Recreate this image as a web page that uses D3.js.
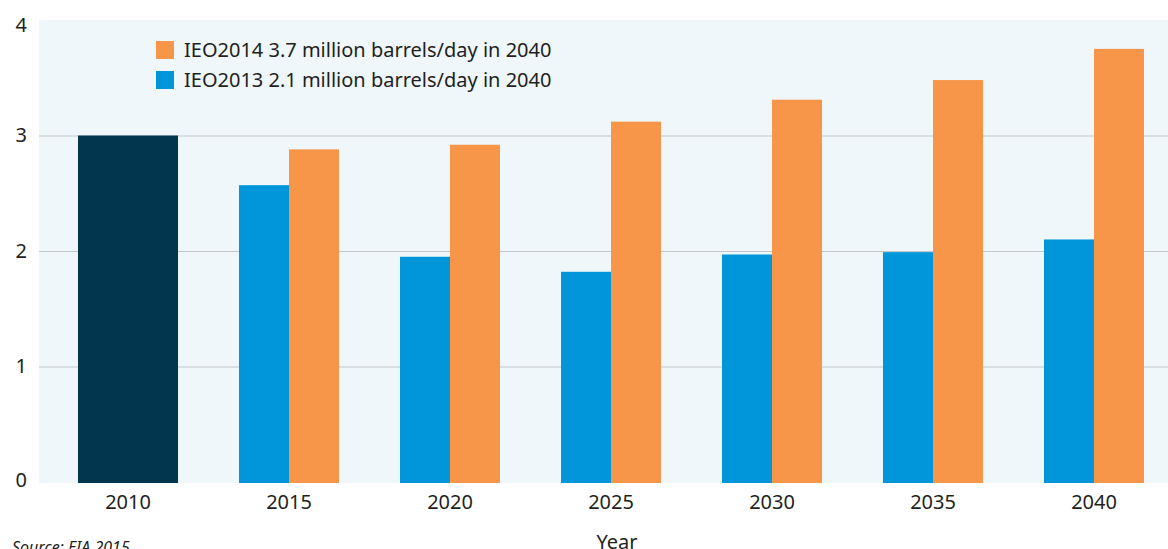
<!DOCTYPE html>
<html>
<head>
<meta charset="utf-8">
<script src="https://cdn.jsdelivr.net/npm/d3@7"></script>
<style>
  body { margin: 0; background: #fff; }
  svg text { font-family: "Noto Sans", "Open Sans", sans-serif; fill: #231f20; }
</style>
</head>
<body>
<svg id="chart" width="1168" height="549"></svg>
<script>
// data
var years = ["2010", "2015", "2020", "2025", "2030", "2035", "2040"];
var ieo2013 = [3.00, 2.57, 1.95, 1.82, 1.97, 1.99, 2.10];
var ieo2014 = [null, 2.88, 2.92, 3.12, 3.31, 3.48, 3.75];
var y_ticks = [0, 1, 2, 3, 4];
var legend_labels = ["IEO2014 3.7 million barrels/day in 2040", "IEO2013 2.1 million barrels/day in 2040"];

var svg = d3.select("#chart");

var plot_left = 39, plot_right = 1168, plot_top = 20, plot_bottom = 483;

var x = d3.scaleBand()
    .domain(years)
    .range([47.5, 1174.5])
    .paddingInner(61 / 161)
    .paddingOuter(30.5 / 161);

var y = d3.scaleLinear().domain([0, 4]).range([482, 20]);

// background
svg.append("rect")
    .attr("x", plot_left).attr("y", plot_top)
    .attr("width", plot_right - plot_left).attr("height", plot_bottom - plot_top)
    .attr("fill", "#eff7fb");

// gridlines
svg.append("g").selectAll("line")
    .data([1, 2, 3])
    .join("line")
    .attr("x1", plot_left).attr("x2", plot_right)
    .attr("y1", function(d) { return y(d) + 0.5; })
    .attr("y2", function(d) { return y(d) + 0.5; })
    .attr("stroke", "#c2c6ca").attr("stroke-width", 1.2);

// bars
var bw = x.bandwidth();
var bars = svg.append("g");
years.forEach(function(yr, i)
{
    if (ieo2014[i] == null)
    {
        bars.append("rect")
            .attr("x", x(yr)).attr("width", bw)
            .attr("y", y(ieo2013[i])).attr("height", plot_bottom - y(ieo2013[i]))
            .attr("fill", "#02364e");
    }
    else
    {
        bars.append("rect")
            .attr("x", x(yr)).attr("width", bw / 2)
            .attr("y", y(ieo2013[i])).attr("height", plot_bottom - y(ieo2013[i]))
            .attr("fill", "#0096d9");
        bars.append("rect")
            .attr("x", x(yr) + bw / 2).attr("width", bw / 2)
            .attr("y", y(ieo2014[i])).attr("height", plot_bottom - y(ieo2014[i]))
            .attr("fill", "#f79548");
    }
});

// y axis labels
var y_axis = svg.append("g")
    .attr("transform", "translate(" + (plot_left - 12) + ",0)")
    .call(d3.axisLeft(y).tickValues(y_ticks).tickSize(0).tickPadding(0).tickFormat(d3.format("d")));
y_axis.select(".domain").remove();
y_axis.selectAll("text").attr("font-size", 20).attr("fill", "#231f20")
    .attr("font-family", "\"Noto Sans\", sans-serif");
y_axis.selectAll(".tick").filter(function(d) { return d == 4; }).select("text").attr("dy", "0.55em");
y_axis.selectAll(".tick").filter(function(d) { return d == 0; }).select("text").attr("dy", "0.2em");

// x axis labels
var x_axis = svg.append("g")
    .attr("transform", "translate(0," + plot_bottom + ")")
    .call(d3.axisBottom(x).tickSize(0).tickPadding(12));
x_axis.select(".domain").remove();
x_axis.selectAll("text").attr("font-size", 20).attr("fill", "#231f20")
    .attr("font-family", "\"Noto Sans\", sans-serif");

// axis title
svg.append("text")
    .attr("x", 617).attr("y", 549)
    .attr("text-anchor", "middle")
    .attr("font-size", 20)
    .text("Year");

// source
svg.append("text")
    .attr("x", 12).attr("y", 553)
    .attr("font-size", 16)
    .attr("font-style", "italic")
    .text("Source: EIA 2015");

// legend
var legend_colors = ["#f79548", "#0096d9"];
var legend = svg.append("g");
legend_labels.forEach(function(lbl, i)
{
    legend.append("rect")
        .attr("x", 156).attr("y", 41 + i * 30)
        .attr("width", 18).attr("height", 18)
        .attr("fill", legend_colors[i]);
    legend.append("text")
        .attr("x", 184).attr("y", 50 + i * 30)
        .attr("dy", "0.36em")
        .attr("font-size", 20)
        .text(lbl);
});
</script>
</body>
</html>
